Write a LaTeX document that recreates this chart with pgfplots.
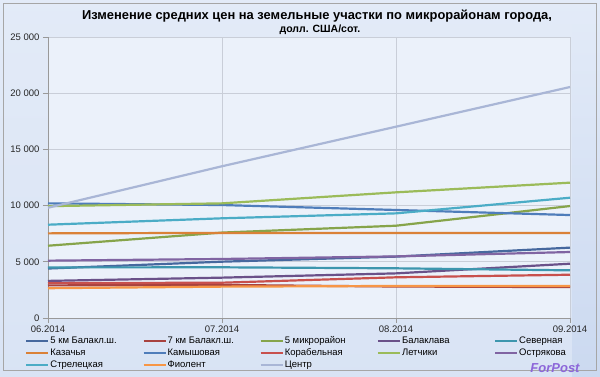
\documentclass[border=0pt]{standalone}
\usepackage{pgfplots}
\pgfplotsset{compat=1.18}
\usepackage{fontspec}
\setmainfont{Liberation Sans}
\usetikzlibrary{shadings}
\definecolor{cA}{HTML}{46689E}
\definecolor{cB}{HTML}{A8423F}
\definecolor{cC}{HTML}{86A44A}
\definecolor{cD}{HTML}{6A5189}
\definecolor{cE}{HTML}{3D96AE}
\definecolor{cF}{HTML}{DA8137}
\definecolor{cG}{HTML}{4F7DBA}
\definecolor{cH}{HTML}{C8504D}
\definecolor{cI}{HTML}{9BBB59}
\definecolor{cJ}{HTML}{8064A2}
\definecolor{cK}{HTML}{4BACC6}
\definecolor{cL}{HTML}{F79646}
\definecolor{cM}{HTML}{A9B6D6}
\definecolor{bgA}{HTML}{E3EBF8}
\definecolor{bgB}{HTML}{CBD9F0}
\definecolor{plotbg}{HTML}{EBF1FA}
\definecolor{gridc}{HTML}{C9CED8}
\newcommand{\lgE}[1]{\makebox[91pt][l]{#1}}
\begin{document}
\begin{tikzpicture}
\useasboundingbox (0pt,0pt) rectangle (600pt,377pt);
\shade[left color=bgA, right color=bgB, shading angle=0] (0pt,0pt) rectangle (600pt,377pt);
\fill[bgA, opacity=0.6] (0pt,0pt) rectangle (572pt,377pt);
\draw[gray!70, line width=0.8pt] (3pt,7pt) rectangle (596pt,374pt);
\node[font=\fontsize{12.9}{14}\selectfont\bfseries] at (317pt,361pt) {Изменение средних цен на земельные участки по микрорайонам города,};
\node[font=\fontsize{10.5}{12}\selectfont\bfseries] at (320pt,347pt) {долл. США/сот.};
\node[font=\fontsize{13}{14}\selectfont\bfseries\itshape, text=blue!50!violet!60!white] at (555pt,9pt) {ForPost};
\begin{axis}[
  at={(48pt,59pt)}, anchor=origin,
  scale only axis, width=522pt, height=281pt,
  xmin=0, xmax=3, ymin=0, ymax=25000,
  xtick={0,1,2,3},
  xticklabels={06.2014,07.2014,08.2014,09.2014},
  ytick={0,5000,10000,15000,20000,25000},
  /pgf/number format/assume math mode=true,
  /pgf/number format/1000 sep={\ },
  scaled y ticks=false,
  tick label style={font=\fontsize{9.5}{11}\selectfont, text=black!85},
  xticklabel style={yshift=1pt},
  tick align=outside, major tick length=5pt,
  tick style={gray!80, line width=0.6pt},
  axis x line*=bottom, axis y line*=left,
  axis line style={gray!80, line width=0.8pt, -},
  xmajorgrids, ymajorgrids,
  grid style={gridc, line width=0.6pt},
  axis background/.style={fill=plotbg},
  clip=false,
  legend columns=5,
  legend cell align=left,
  legend image code/.code={\draw[#1, line width=2.2pt] (0pt,0pt) -- (22pt,0pt);},
  legend style={at={(axis description cs:-0.044,-0.061)}, anchor=north west,
    draw=none, fill=none, inner sep=0pt, row sep=0pt, column sep=0pt,
    font=\fontsize{9.5}{11}\selectfont,
    nodes={inner sep=1pt, text height=7.5pt, text depth=2.5pt}},
  every axis plot/.append style={line width=2.2pt},
]
\addplot[cA] coordinates {(0,4400) (1,5010) (2,5460) (3,6260)};
\addlegendentry{\lgE{5 км Балакл.ш.}}
\addplot[cB] coordinates {(0,2900) (1,2940) (2,2800) (3,2750)};
\addlegendentry{\lgE{7 км Балакл.ш.}}
\addplot[cC] coordinates {(0,6430) (1,7600) (2,8210) (3,9960)};
\addlegendentry{\lgE{5 микрорайон}}
\addplot[cD] coordinates {(0,3300) (1,3590) (2,3970) (3,4830)};
\addlegendentry{\lgE{Балаклава}}
\addplot[cE] coordinates {(0,4500) (1,4510) (2,4420) (3,4240)};
\addlegendentry{\lgE{Северная}}
\addplot[cF] coordinates {(0,7530) (1,7570) (2,7560) (3,7560)};
\addlegendentry{\lgE{Казачья}}
\addplot[cG] coordinates {(0,10200) (1,10050) (2,9610) (3,9160)};
\addlegendentry{\lgE{Камышовая}}
\addplot[cH] coordinates {(0,3100) (1,3140) (2,3620) (3,3850)};
\addlegendentry{\lgE{Корабельная}}
\addplot[cI] coordinates {(0,9950) (1,10200) (2,11180) (3,12040)};
\addlegendentry{\lgE{Летчики}}
\addplot[cJ] coordinates {(0,5100) (1,5250) (2,5480) (3,5870)};
\addlegendentry{\lgE{Острякова}}
\addplot[cK] coordinates {(0,8300) (1,8870) (2,9310) (3,10700)};
\addlegendentry{\lgE{Стрелецкая}}
\addplot[cL] coordinates {(0,2650) (1,2790) (2,2850) (3,2850)};
\addlegendentry{\lgE{Фиолент}}
\addplot[cM] coordinates {(0,9810) (1,13500) (2,17020) (3,20550)};
\addlegendentry{\lgE{Центр}}
\end{axis}
\end{tikzpicture}
\end{document}
